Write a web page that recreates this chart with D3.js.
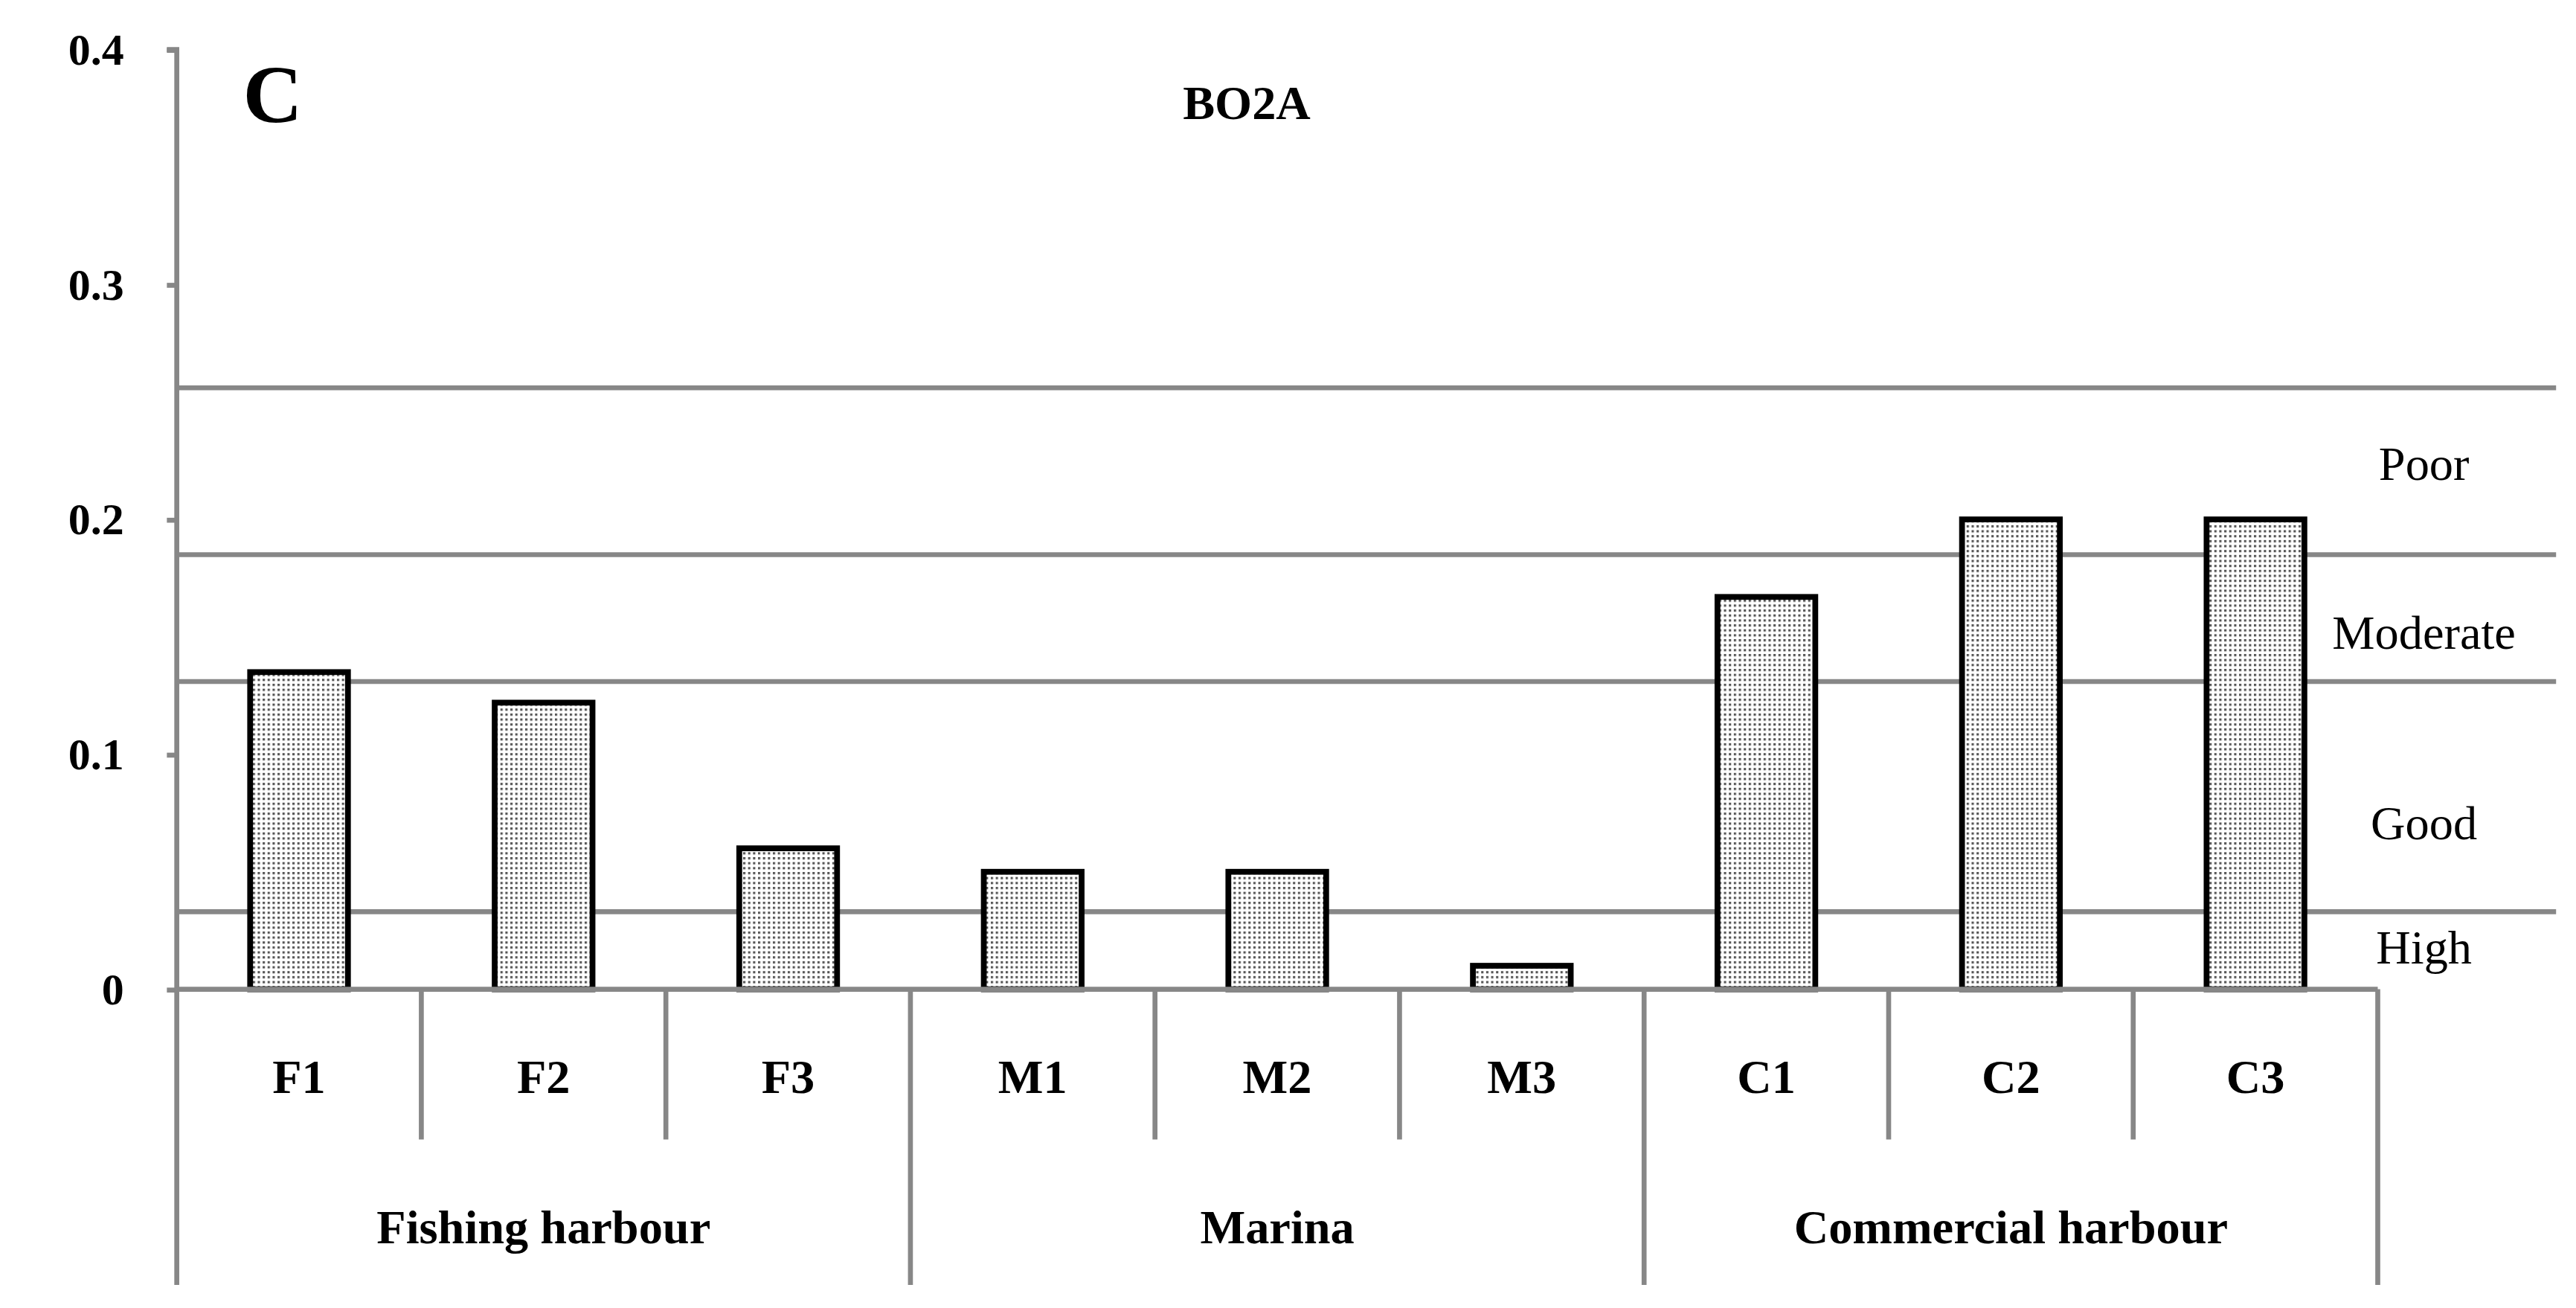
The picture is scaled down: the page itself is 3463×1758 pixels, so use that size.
<!DOCTYPE html>
<meta charset="utf-8">
<style>
  body { margin: 0; background: #fff; }
  text { font-family: 'Liberation Serif', 'Times New Roman', serif; }
</style>
<script src="https://d3js.org/d3.v7.min.js"></script>
<div id="chart"></div>
<script>
// data
var sites = ["F1", "F2", "F3", "M1", "M2", "M3", "C1", "C2", "C3"];
var values = [0.135, 0.122, 0.06, 0.05, 0.05, 0.01, 0.167, 0.2, 0.2];
var groups = ["Fishing harbour", "Marina", "Commercial harbour"];
var yTicks = [0, 0.1, 0.2, 0.3, 0.4];
var thresholds = [0.033, 0.131, 0.185, 0.256];
var zoneNames = ["High", "Good", "Moderate", "Poor"];
var zoneLabelY = [0.018, 0.071, 0.152, 0.224];

var W = 1560, H = 792;
var svg = d3.select("#chart").append("svg")
    .attr("width", 3463).attr("height", 1758)
    .attr("viewBox", "0 0 " + W + " " + H);

var left = 107, right = 1440, lineRight = 1548, y0 = 599, yTop = 30;
var x = d3.scaleBand().domain(sites).range([left, right]);
var y = d3.scaleLinear().domain([0, 0.4]).range([y0, yTop]);
var grey = "#878787";

var defs = svg.append("defs");
var pat = defs.append("pattern").attr("id", "dots")
    .attr("width", 3).attr("height", 3).attr("patternUnits", "userSpaceOnUse");
pat.append("rect").attr("width", 3).attr("height", 3).attr("fill", "#fff");
pat.append("rect").attr("width", 1.4).attr("height", 1.4).attr("fill", "#555");

// threshold lines
svg.selectAll(".thr").data(thresholds).enter().append("line")
    .attr("x1", left).attr("x2", lineRight)
    .attr("y1", d => y(d)).attr("y2", d => y(d))
    .attr("stroke", grey).attr("stroke-width", 3);

// bars
svg.selectAll(".bar").data(values).enter().append("rect")
    .attr("x", (d, i) => x(sites[i]) + x.bandwidth() * 0.3)
    .attr("width", x.bandwidth() * 0.4)
    .attr("y", d => y(d)).attr("height", d => y0 - y(d))
    .attr("fill", "url(#dots)").attr("stroke", "#000").attr("stroke-width", 3.5);

// y axis
var yAxis = svg.append("g").attr("transform", "translate(" + left + ",0)")
    .call(d3.axisLeft(y).tickValues(yTicks).tickSize(6).tickPadding(26)
        .tickFormat(d => d === 0 ? "0" : d3.format(".1f")(d)));
yAxis.select(".domain").attr("stroke", grey).attr("stroke-width", 3).attr("d", "M-6," + yTop + "H0V" + y0);
yAxis.selectAll(".tick line").attr("stroke", grey).attr("stroke-width", 3);
yAxis.selectAll(".tick text").attr("font-size", 27).attr("font-weight", "bold")
    .attr("fill", "#000").style("font-family", "'Liberation Serif', serif");

// x axis baseline and dividers
svg.append("line").attr("x1", left).attr("x2", right).attr("y1", y0).attr("y2", y0)
    .attr("stroke", grey).attr("stroke-width", 3);
sites.concat(["end"]).forEach(function (s, i) {
  var xx = i < sites.length ? x(s) : right;
  var long = i % 3 === 0;
  svg.append("line").attr("x1", xx).attr("x2", xx).attr("y1", y0).attr("y2", long ? 778 : 690)
      .attr("stroke", grey).attr("stroke-width", 3);
});
svg.selectAll(".site").data(sites).enter().append("text")
    .attr("x", d => x(d) + x.bandwidth() / 2).attr("y", 662)
    .attr("text-anchor", "middle").attr("font-size", 29).attr("font-weight", "bold").text(d => d);
svg.selectAll(".grp").data(groups).enter().append("text")
    .attr("x", (d, i) => (x(sites[i * 3]) + x(sites[i * 3 + 2]) + x.bandwidth()) / 2).attr("y", 753)
    .attr("text-anchor", "middle").attr("font-size", 29).attr("font-weight", "bold").text(d => d);

// zone labels
svg.selectAll(".zone").data(zoneNames).enter().append("text")
    .attr("x", 1468).attr("y", (d, i) => y(zoneLabelY[i]) + 10)
    .attr("text-anchor", "middle").attr("font-size", 29).text(d => d);

// titles
svg.append("text").attr("x", 147).attr("y", 74).attr("font-size", 50).attr("font-weight", "bold").text("C");
svg.append("text").attr("x", 755).attr("y", 72).attr("text-anchor", "middle")
    .attr("font-size", 29).attr("font-weight", "bold").text("BO2A");
</script>
